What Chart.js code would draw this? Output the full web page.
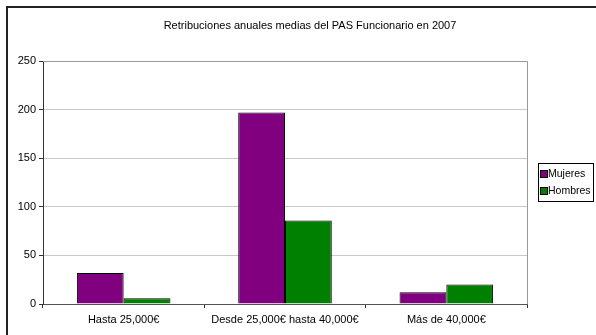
<!DOCTYPE html>
<html>
<head>
<meta charset="utf-8">
<script src="https://cdn.jsdelivr.net/npm/chart.js@4/dist/chart.umd.min.js"></script>
<style>
  html, body { margin: 0; padding: 0; background: #fff; }
  #wrap { width: 596px; height: 335px; position: relative; }
</style>
</head>
<body>
<div id="wrap"><canvas id="retribuciones"></canvas></div>
<script>
const chartTitle = "Retribuciones anuales medias del PAS Funcionario en 2007";
const categories = ["Hasta 25,000€", "Desde 25,000€ hasta 40,000€", "Más de 40,000€"];
const mujeres = [32, 197, 12];
const hombres = [6, 86, 20];
const yTicks = [0, 50, 100, 150, 200, 250];

const FONT = "'Liberation Sans', Arial, sans-serif";

// marco, titulo, borde del area y leyenda
const decoPlugin = {
  id: "deco",
  beforeDraw(chart) {
    const ctx = chart.ctx;
    ctx.save();
    ctx.fillStyle = "#fff";
    ctx.fillRect(0, 0, chart.width, chart.height);
    ctx.strokeStyle = "#222";
    ctx.lineWidth = 2;
    ctx.beginPath();
    ctx.moveTo(7, chart.height);
    ctx.lineTo(7, 7);
    ctx.lineTo(chart.width, 7);
    ctx.stroke();
    ctx.restore();
  },
  afterDraw(chart) {
    const ctx = chart.ctx;
    const area = chart.chartArea;
    ctx.save();
    // borde superior y derecho del area
    ctx.strokeStyle = "#999";
    ctx.lineWidth = 1;
    ctx.beginPath();
    ctx.moveTo(area.left, area.top + 0.5);
    ctx.lineTo(area.right + 0.5, area.top + 0.5);
    ctx.lineTo(area.right + 0.5, area.bottom);
    ctx.stroke();

    // titulo
    ctx.fillStyle = "#000";
    ctx.font = "11px " + FONT;
    ctx.textAlign = "center";
    ctx.textBaseline = "middle";
    ctx.fillText(chartTitle, 310, 26);

    // leyenda
    const lx = 538, ly = 163, lw = 55, lh = 38;
    ctx.strokeStyle = "#000";
    ctx.strokeRect(lx + 0.5, ly + 0.5, lw, lh);
    ctx.font = "10.5px " + FONT;
    ctx.textAlign = "left";
    chart.data.datasets.forEach((ds, i) => {
      const y = ly + 11 + i * 17;
      ctx.fillStyle = ds.backgroundColor;
      ctx.fillRect(lx + 3, y - 3, 6, 6);
      ctx.strokeRect(lx + 2.5, y - 3.5, 7, 7);
      ctx.fillStyle = "#000";
      ctx.fillText(ds.label, lx + 10, y);
    });
    ctx.restore();
  },
};

new Chart(document.getElementById("retribuciones"), {
  type: "bar",
  data: {
    labels: categories,
    datasets: [
      {
        label: "Mujeres",
        data: mujeres,
        backgroundColor: "#800080",
        borderColor: "#000",
        borderWidth: 1,
      },
      {
        label: "Hombres",
        data: hombres,
        backgroundColor: "#008000",
        borderColor: "#000",
        borderWidth: 1,
      },
    ],
  },
  options: {
    responsive: true,
    maintainAspectRatio: false,
    animation: false,
    events: [],
    layout: { padding: { top: 61, right: 69, left: 0, bottom: 0 } },
    datasets: { bar: { categoryPercentage: 0.58, barPercentage: 1.0 } },
    scales: {
      x: {
        grid: {
          display: true,
          drawOnChartArea: false,
          tickLength: 4,
          tickColor: "#333",
        },
        border: { color: "#555", width: 1 },
        ticks: { color: "#000", padding: 5, font: { family: FONT, size: 11 } },
        afterFit(scale) { scale.height = 31; },
      },
      y: {
        min: 0,
        max: 250,
        afterBuildTicks(scale) { scale.ticks = yTicks.map((v) => ({ value: v })); },
        grid: { color: "#c8c8c8", tickColor: "#333", tickLength: 4 },
        border: { color: "#333", width: 1 },
        ticks: { color: "#000", padding: 3, font: { family: FONT, size: 11 } },
        afterFit(scale) { scale.width = 43; },
      },
    },
    plugins: {
      legend: { display: false },
      title: { display: false },
      tooltip: { enabled: false },
    },
  },
  plugins: [decoPlugin],
});
</script>
</body>
</html>
